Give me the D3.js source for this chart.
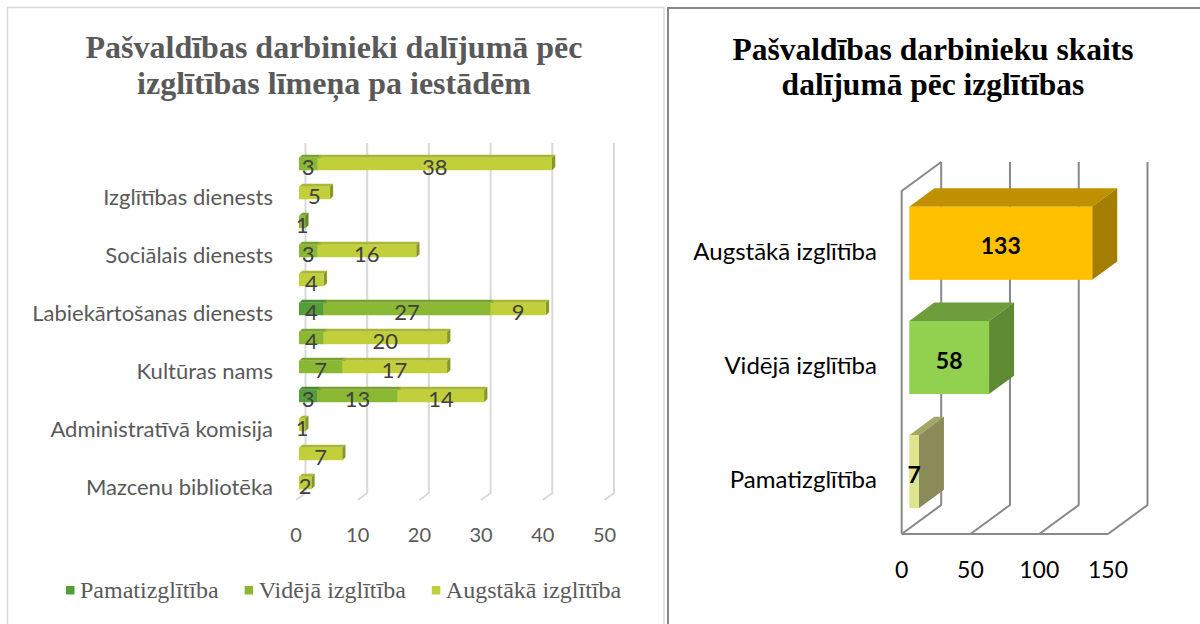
<!DOCTYPE html>
<html>
<head>
<meta charset="utf-8">
<script src="https://cdn.jsdelivr.net/npm/d3@7"></script>
<style>
  body { margin: 0; background: #fff; }
  svg { display: block; }
</style>
</head>
<body>
<svg id="chart" width="1200" height="624"></svg>
<script>
// ---- data ----
// left chart rows, listed top to bottom (only every other row is labelled)
const rowLabels = ["", "Izglītības dienests", "", "Sociālais dienests", "", "Labiekārtošanas dienests",
                   "", "Kultūras nams", "", "Administratīvā komisija", "", "Mazcenu bibliotēka"];
const pamat    = [0, 0, 0, 0, 0, 4, 0, 0, 3, 0, 0, 0];
const videja   = [3, 0, 1, 3, 0, 27, 4, 7, 13, 0, 0, 0];
const augstaka = [38, 5, 0, 16, 4, 9, 20, 17, 14, 1, 7, 2];
const seriesNames = ["Pamatizglītība", "Vidējā izglītība", "Augstākā izglītība"];
const leftTicks = [0, 10, 20, 30, 40, 50];

// right chart
const rightCategories = ["Augstākā izglītība", "Vidējā izglītība", "Pamatizglītība"];
const rightValues = [133, 58, 7];
const rightTicks = [0, 50, 100, 150];

// ---- styling ----
const SANS = "Lato, 'Open Sans', sans-serif";
const SERIF = "'Liberation Serif', 'DejaVu Serif', serif";
const LEFT_COLORS = ["#549E39", "#8AB833", "#C0CF3A"];
const RIGHT_COLORS = [
  {front: "#FFC000", top: "#C09000", side: "#A47E00"},
  {front: "#92D050", top: "#6E9D3C", side: "#5E8A33"},
  {front: "#DCE58E", top: "#A3A765", side: "#8A8B58"}
];

const svg = d3.select("#chart");

// panel frames
svg.append("rect")
  .attr("x", 7.5).attr("y", 7.5).attr("width", 656.5).attr("height", 660)
  .attr("fill", "none").attr("stroke", "#d9d9d9").attr("stroke-width", 1.5);
svg.append("rect")
  .attr("x", 668).attr("y", 8).attr("width", 600).attr("height", 660)
  .attr("fill", "none").attr("stroke", "#878787").attr("stroke-width", 2);

// draws a simple extruded box: front face, top face, right side
function box(g, x0, x1, y, h, d, c) {
  g.append("path")
    .attr("d", `M${x0},${y} L${x0 + d.dx},${y + d.dy} L${x1 + d.dx},${y + d.dy} L${x1},${y} Z`)
    .attr("fill", c.top);
  g.append("path")
    .attr("d", `M${x1},${y} L${x1 + d.dx},${y + d.dy} L${x1 + d.dx},${y + h + d.dy} L${x1},${y + h} Z`)
    .attr("fill", c.side);
  g.append("rect")
    .attr("x", x0).attr("y", y).attr("width", Math.max(0, x1 - x0)).attr("height", h)
    .attr("fill", c.front);
}

// ================= left chart =================
const left = svg.append("g");

left.append("text")
  .attr("font-family", SERIF).attr("font-weight", "bold")
  .attr("font-size", 32).attr("fill", "#595959").attr("text-anchor", "middle")
  .selectAll("tspan")
  .data(["Pašvaldības darbinieki dalījumā pēc", "izglītības līmeņa pa iestādēm"])
  .join("tspan")
    .attr("x", 334)
    .attr("y", (d, i) => 58 + i * 36)
    .text(d => d);

const xL = d3.scaleLinear().domain([0, 50]).range([296, 604.5]);
const WALL_L = {dx: 9.5, dy: -7};
const BAR_L = {dx: 3.3, dy: -3};
const BAR_SHIFT_L = 3;
const yL = d3.scaleBand()
  .domain(d3.range(rowLabels.length))
  .range([149.5, 497.5])
  .paddingInner(0.57)
  .paddingOuter(0.285);

// gridlines on the back wall + floor
left.selectAll(".gridL")
  .data(leftTicks)
  .join("path")
    .attr("d", t => `M${xL(t) + WALL_L.dx},143 V${500 + WALL_L.dy} L${xL(t)},500`)
    .attr("fill", "none")
    .attr("stroke", "#d9d9d9")
    .attr("stroke-width", 2);

left.selectAll(".tickL")
  .data(leftTicks)
  .join("text")
    .attr("x", t => xL(t))
    .attr("y", 534)
    .attr("dominant-baseline", "central")
    .attr("text-anchor", "middle")
    .attr("font-family", SANS)
    .attr("font-size", 20)
    .attr("fill", "#595959")
    .text(t => t);

left.selectAll(".catL")
  .data(rowLabels)
  .join("text")
    .attr("x", 273)
    .attr("y", (d, i) => yL(i) + yL.bandwidth() / 2 + 3)
    .attr("dominant-baseline", "central")
    .attr("text-anchor", "end")
    .attr("font-family", SANS)
    .attr("font-size", 22)
    .attr("fill", "#595959")
    .text(d => d);

const rows = rowLabels.map((l, i) => ({i: i, p: pamat[i], v: videja[i], a: augstaka[i]}));
const stacked = d3.stack().keys(["p", "v", "a"])(rows);

const barsL = left.append("g");
stacked.forEach((s, si) => {
  const base = d3.color(LEFT_COLORS[si]);
  const col = {front: base.formatHex(), top: base.darker(0.35).formatHex(), side: base.darker(0.9).formatHex()};
  s.forEach((d, i) => {
    if (d[1] - d[0] <= 0) return;
    box(barsL, xL(d[0]) + BAR_SHIFT_L, xL(d[1]) + BAR_SHIFT_L, yL(i), yL.bandwidth(), BAR_L, col);
  });
});

stacked.forEach((s, si) => {
  left.append("g").selectAll("text")
    .data(s.filter(d => d[1] - d[0] > 0))
    .join("text")
      .attr("x", d => xL((d[0] + d[1]) / 2) + BAR_SHIFT_L)
      .attr("y", d => yL(d.data.i) + yL.bandwidth() / 2 + 2)
      .attr("dominant-baseline", "central")
      .attr("text-anchor", "middle")
      .attr("font-family", SANS)
      .attr("font-size", 22)
      .attr("fill", "#404040")
      .text(d => d[1] - d[0]);
});

// legend
const legend = left.append("g");
let lx = 66;
seriesNames.forEach((name, i) => {
  legend.append("rect")
    .attr("x", lx).attr("y", 586).attr("width", 8.5).attr("height", 8.5)
    .attr("fill", LEFT_COLORS[i]);
  const t = legend.append("text")
    .attr("x", lx + 14).attr("y", 590)
    .attr("dominant-baseline", "central")
    .attr("font-family", SERIF)
    .attr("font-size", 24)
    .attr("fill", "#595959")
    .text(name);
  lx += 14 + t.node().getComputedTextLength() + 26;
});

// ================= right chart =================
const right = svg.append("g");

right.append("text")
  .attr("font-family", SERIF).attr("font-weight", "bold")
  .attr("font-size", 31.5).attr("fill", "#000").attr("text-anchor", "middle")
  .selectAll("tspan")
  .data(["Pašvaldības darbinieku skaits", "dalījumā pēc izglītības"])
  .join("tspan")
    .attr("x", 933)
    .attr("y", (d, i) => 60 + i * 35)
    .text(d => d);

const xR = d3.scaleLinear().domain([0, 150]).range([901.7, 1108]);
const WALL_R = {dx: 39.5, dy: -29};
const BAR_R = {dx: 25, dy: -18.4};
const BAR_SHIFT_R = 7.6;
const FLOOR_R = 534;
const yR = d3.scaleBand()
  .domain(rightCategories)
  .range([186.2, 528.8])
  .paddingInner(0.36)
  .paddingOuter(0.18);

const wallTop = 162;
// side wall at zero
right.append("path")
  .attr("d", `M${xR(0)},${FLOOR_R} V${wallTop - WALL_R.dy} L${xR(0) + WALL_R.dx},${wallTop}`)
  .attr("fill", "none").attr("stroke", "#898989").attr("stroke-width", 2);
// floor front edge
right.append("path")
  .attr("d", `M${xR(0)},${FLOOR_R} H${xR(150)}`)
  .attr("fill", "none").attr("stroke", "#898989").attr("stroke-width", 2);
// gridlines on back wall and floor
right.selectAll(".gridR")
  .data(rightTicks)
  .join("path")
    .attr("d", t => `M${xR(t) + WALL_R.dx},${wallTop} V${FLOOR_R + WALL_R.dy} L${xR(t)},${FLOOR_R}`)
    .attr("fill", "none")
    .attr("stroke", "#898989")
    .attr("stroke-width", 2);

right.selectAll(".tickR")
  .data(rightTicks)
  .join("text")
    .attr("x", t => xR(t))
    .attr("y", 569)
    .attr("dominant-baseline", "central")
    .attr("text-anchor", "middle")
    .attr("font-family", SANS)
    .attr("font-size", 23)
    .attr("fill", "#000")
    .text(t => t);

right.selectAll(".catR")
  .data(rightCategories)
  .join("text")
    .attr("x", 877)
    .attr("y", c => yR(c) + yR.bandwidth() / 2 + 7)
    .attr("dominant-baseline", "central")
    .attr("text-anchor", "end")
    .attr("font-family", SANS)
    .attr("font-size", 24)
    .attr("fill", "#000")
    .text(c => c);

const barsR = right.append("g");
rightCategories.forEach((c, i) => {
  box(barsR, xR(0) + BAR_SHIFT_R, xR(rightValues[i]) + BAR_SHIFT_R, yR(c), yR.bandwidth(), BAR_R, RIGHT_COLORS[i]);
});

right.selectAll(".valR")
  .data(rightCategories)
  .join("text")
    .attr("x", (c, i) => (xR(0) + xR(rightValues[i])) / 2 + BAR_SHIFT_R)
    .attr("y", c => yR(c) + yR.bandwidth() / 2 + 2)
    .attr("dominant-baseline", "central")
    .attr("text-anchor", "middle")
    .attr("font-family", SANS)
    .attr("font-weight", "bold")
    .attr("font-size", 23)
    .attr("fill", "#000")
    .text((c, i) => rightValues[i]);
</script>
</body>
</html>
